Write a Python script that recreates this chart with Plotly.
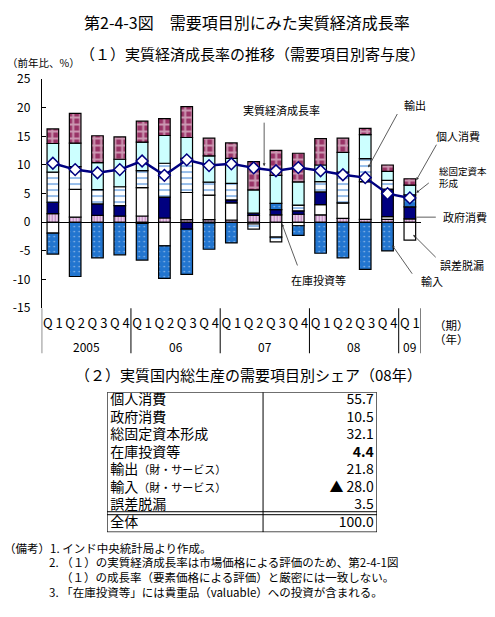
import plotly.graph_objects as go

# ---------------- data ----------------
periods = ["2005Q1", "2005Q2", "2005Q3", "2005Q4",
           "2006Q1", "2006Q2", "2006Q3", "2006Q4",
           "2007Q1", "2007Q2", "2007Q3", "2007Q4",
           "2008Q1", "2008Q2", "2008Q3", "2008Q4",
           "2009Q1"]
quarter_labels = ["Q 1", "Q 2", "Q 3", "Q 4"] * 4 + ["Q 1"]
year_labels = ["2005", "06", "07", "08", "09"]
year_counts = [4, 4, 4, 4, 1]

inventory   = [1.5, 0.9, 1.2, 1.1, 1.1, 0.75, 0.45, 0.45, 0.4, 1.2, 1.3, 1.4, 1.3, 0.7, 0.5, 0.5, 0.6]
discrepancy = [-1.9, 4.85, 0.0, 0.0, 4.95, -4.1, 4.75, 4.3, 3.0, -0.3, -2.6, -0.6, 1.8, 2.7, 6.6, 0.5, -3.1]
government  = [2.0, 0.0, 2.0, 1.8, -0.2, 3.65, -1.2, -0.1, 0.5, 0.4, 0.9, 0.6, 2.2, 0.0, 0.0, 4.8, 2.1]
imports     = [-3.65, -9.46, -6.2, -5.67, -6.4, -5.7, -7.9, -4.6, -3.6, 0.0, 1.1, -1.7, -5.4, -6.2, -8.2, -5.0, 2.1]
exports     = [5.25, 3.95, 2.5, 3.3, 2.95, 5.9, 5.95, 2.25, 2.9, -0.9, -0.8, 1.0, 1.8, 5.35, 4.0, 1.5, 0.0]
gfcf        = [5.0, 4.1, 4.7, 4.8, 5.0, 4.85, 3.65, 4.6, 4.35, 4.05, 4.9, 4.05, 2.9, 3.45, 4.2, 1.6, 1.7]
private     = [2.55, 5.2, 4.7, 3.9, 3.65, 2.95, 5.4, 3.1, 2.7, 4.95, 4.35, 5.0, 4.6, 2.5, 1.1, 1.1, 1.1]
gdp_growth  = [10.3, 9.2, 8.65, 9.2, 10.7, 8.2, 10.9, 9.9, 10.2, 9.5, 9.0, 9.55, 9.0, 8.3, 7.8, 5.0, 4.25]

y_tick_vals = [-15, -10, -5, 0, 5, 10, 15, 20, 25]
y_tick_text = ["-15", "-10", "-5", "0", "5", "10", "15", "20", "25"]

share_items = ["個人消費", "政府消費", "総固定資本形成", "在庫投資等",
               "輸出（財・サービス）", "輸入（財・サービス）", "誤差脱漏", "全体"]
share_values = [55.7, 10.5, 32.1, 4.4, 21.8, -28.0, 3.5, 100.0]

FONT = "Noto Sans CJK JP"
W, H = 495, 617


def px(xp):
    return xp / W


def py(yp):
    return 1 - yp / H


fig = go.Figure()

series = [
    ("在庫投資等", inventory, dict(color="white", pattern=dict(shape="|", fgcolor="#800080", bgcolor="white", size=3, solidity=0.6, fillmode="overlay"))),
    ("誤差脱漏", discrepancy, dict(color="white")),
    ("政府消費", government, dict(color="#000080")),
    ("輸入", imports, dict(color="#2275cf", pattern=dict(shape=".", fgcolor="white", bgcolor="#2275cf", size=5, solidity=0.09, fillmode="overlay"))),
    ("輸出", exports, dict(color="white", pattern=dict(shape="-", fgcolor="#1a6fd0", bgcolor="white", size=6, solidity=0.3, fillmode="overlay"))),
    ("総固定資本形成", gfcf, dict(color="#ccffff")),
    ("個人消費", private, dict(color="#993366", pattern=dict(shape="+", fgcolor="white", bgcolor="#993366", size=7, solidity=0.5, fillmode="overlay"))),
]
for name, vals, mk in series:
    mk = dict(mk)
    mk["line"] = dict(color="black", width=1.2)
    fig.add_trace(go.Bar(x=periods, y=vals, name=name, marker=mk, width=0.52,
                         xaxis="x", yaxis="y"))

fig.add_trace(go.Scatter(x=periods, y=gdp_growth, mode="lines+markers", name="実質経済成長率",
                         line=dict(color="#000080", width=2.5),
                         marker=dict(symbol="diamond", size=9, color="white",
                                     line=dict(color="#000080", width=1.5)),
                         xaxis="x", yaxis="y"))

# ---------------- table (second axes) ----------------
n_rows = len(share_items)
row_y = [i + 0.5 for i in range(n_rows)]


def fmt_label(s):
    if "（" in s:
        a, b = s.split("（", 1)
        return a + "<span style='font-size:11px'>（" + b + "</span>"
    return s


def fmt_val(v, item):
    s = ("▲ " + f"{abs(v):.1f}") if v < 0 else f"{v:.1f}"
    if item == "在庫投資等":
        s = "<b>" + s + "</b>"
    return s


fig.add_trace(go.Scatter(x=[0.012] * n_rows, y=row_y, mode="text",
                         text=[fmt_label(s) for s in share_items],
                         textposition="middle right",
                         textfont=dict(family=FONT, size=14, color="black"),
                         xaxis="x2", yaxis="y2", hoverinfo="skip"))
fig.add_trace(go.Scatter(x=[0.988] * n_rows, y=row_y, mode="text",
                         text=[fmt_val(v, it) for v, it in zip(share_values, share_items)],
                         textposition="middle left",
                         textfont=dict(family=FONT, size=14, color="black"),
                         xaxis="x2", yaxis="y2", hoverinfo="skip"))

shapes = []
# table frame
shapes.append(dict(type="rect", xref="x2", yref="y2", x0=0, x1=1, y0=0, y1=n_rows,
                   line=dict(color="black", width=1.2)))
shapes.append(dict(type="line", xref="x2", yref="y2", x0=0.578, x1=0.578, y0=0, y1=n_rows,
                   line=dict(color="black", width=1)))
for yy in (n_rows - 1.17, n_rows - 1.0):
    shapes.append(dict(type="line", xref="x2", yref="y2", x0=0, x1=1, y0=yy, y1=yy,
                       line=dict(color="black", width=1)))

# year separators on the category axis
bounds = [-0.5]
for c in year_counts:
    bounds.append(bounds[-1] + c)
for b in bounds:
    shapes.append(dict(type="line", xref="x", yref="paper", x0=b, x1=b,
                       y0=py(306.7), y1=py(353), line=dict(color="black", width=1)))

annotations = []
# year labels
for i, (lab, c) in enumerate(zip(year_labels, year_counts)):
    center = bounds[i] + c / 2
    annotations.append(dict(x=center, y=py(346), xref="x", yref="paper", text=lab,
                            showarrow=False, font=dict(family=FONT, size=12, color="black")))


def ptext(x, y, text, size, xanchor="center", yanchor="middle"):
    annotations.append(dict(x=px(x), y=py(y), xref="paper", yref="paper", text=text,
                            showarrow=False, xanchor=xanchor, yanchor=yanchor,
                            font=dict(family=FONT, size=size, color="black"), align="left"))


ptext(247, 12, "第2-4-3図　需要項目別にみた実質経済成長率", 16)
ptext(253, 45, "（１）実質経済成長率の推移（需要項目別寄与度）", 15)
ptext(5, 54, "（前年比、%）", 10.5, xanchor="left")
ptext(432, 324, "（期）", 11.5, xanchor="left")
ptext(432, 338, "（年）", 11.5, xanchor="left")
ptext(248, 375, "（２）実質国内総生産の需要項目別シェア（08年）", 15)
ptext(2, 553, "（備考）1. インド中央統計局より作成。", 11.5, xanchor="left")
ptext(47, 568, "2. （１）の実質経済成長率は市場価格による評価のため、第2-4-1図", 11.5, xanchor="left")
ptext(59, 583, "（１）の成長率（要素価格による評価）と厳密には一致しない。", 11.5, xanchor="left")
ptext(47, 598, "3. 「在庫投資等」には貴重品（valuable）への投資が含まれる。", 11.5, xanchor="left")

# series labels (paper coordinates)
ptext(281, 103, "実質経済成長率", 11)
ptext(415, 98, "輸出", 11)
ptext(434, 130, "個人消費", 11, xanchor="left")
ptext(437, 172, "総固定資本<br>形成", 9.5, xanchor="left")
ptext(441, 213, "政府消費", 11, xanchor="left")
ptext(438, 262, "誤差脱漏", 11, xanchor="left")
ptext(419, 279, "輸入", 11, xanchor="left")
ptext(289, 278, "在庫投資等", 11, xanchor="left")


def arrow(tx, ty, dx, dy, head=2):
    # tip in data coordinates, tail given as a pixel offset from the tip
    annotations.append(dict(x=tx, y=ty, ax=dx, ay=dy, xref="x", yref="y",
                            text="", showarrow=True, arrowhead=head, arrowsize=0.7,
                            arrowwidth=0.8, arrowcolor="#333333"))


arrow(9.47, 9.8, 0, -45)
arrow(14.13, 9.56, 30, -55)
arrow(16.29, 7.35, 21, -37)
arrow(16.29, 5.15, 14, -11)
arrow(16.29, 0.9, 21, 0, head=0)
arrow(16.15, -2.17, 24, 24)
arrow(15.21, -4.0, 21, 30)
arrow(10.27, -0.29, 16, 43)

fig.update_layout(
    width=W, height=H, margin=dict(l=0, r=0, t=0, b=0),
    paper_bgcolor="white", plot_bgcolor="white",
    barmode="relative", showlegend=False,
    font=dict(family=FONT, color="black"),
    xaxis=dict(domain=[px(41.7), px(421)], type="category", range=[-0.5, 16.5],
               tickvals=periods, ticktext=quarter_labels, ticks="", showline=False,
               showgrid=False, zeroline=False, tickfont=dict(family=FONT, size=13, color="black"),
               ticklabelstandoff=6, anchor="y", tickangle=0),
    yaxis=dict(domain=[py(306.7), py(71)], range=[-15, 25], tickvals=y_tick_vals,
               ticktext=y_tick_text, ticks="inside", ticklen=4, tickcolor="black",
               showline=True, linecolor="black", linewidth=1, showgrid=False,
               zeroline=True, zerolinecolor="black", zerolinewidth=1,
               tickfont=dict(family=FONT, size=12, color="black"), ticklabelstandoff=8,
               anchor="x"),
    xaxis2=dict(domain=[px(107), px(377)], range=[0, 1], visible=False, anchor="y2"),
    yaxis2=dict(domain=[py(537), py(393)], range=[n_rows, 0], visible=False, anchor="x2"),
    shapes=shapes, annotations=annotations,
)

fig.write_html("out.html")
